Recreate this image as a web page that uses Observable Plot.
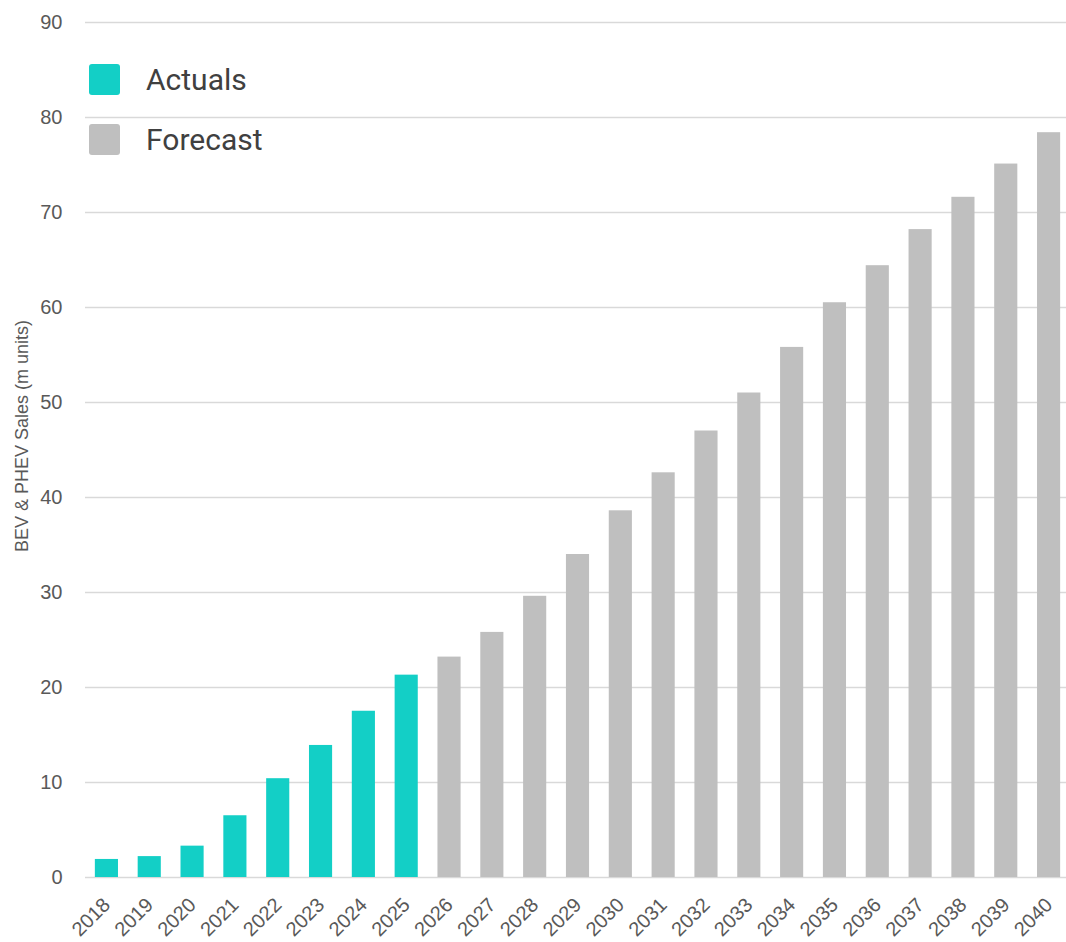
<!DOCTYPE html>
<html>
<head>
<meta charset="utf-8">
<script src="https://cdn.jsdelivr.net/npm/d3@7"></script>
<script src="https://cdn.jsdelivr.net/npm/@observablehq/plot@0.6"></script>
<style>
  html, body { margin: 0; padding: 0; background: #fff; overflow: hidden; }
  #wrap { position: relative; width: 1066px; height: 942px; }
  #legend { position: absolute; left: 89px; top: 64px; font-family: Roboto, sans-serif; font-size: 30px; color: #404040; }
  .item { display: flex; align-items: center; height: 31px; margin-bottom: 29px; }
  .sw { width: 31px; height: 31px; border-radius: 3px; margin-right: 26px; }
  #ylabel { position: absolute; left: 22px; top: 436px; transform: translate(-50%, -50%) rotate(-90deg);
            white-space: nowrap; font-family: 'Liberation Sans', Arial, sans-serif; font-size: 18px; color: #595959; line-height: 1; }
</style>
</head>
<body>
<div id="wrap"><div id="legend"></div><div id="ylabel"></div></div>
<script>
const years = ["2018","2019","2020","2021","2022","2023","2024","2025","2026","2027","2028","2029","2030","2031","2032","2033","2034","2035","2036","2037","2038","2039","2040"];
const sales = [1.9, 2.2, 3.3, 6.5, 10.4, 13.9, 17.5, 21.3, 23.2, 25.8, 29.6, 34.0, 38.6, 42.6, 47.0, 51.0, 55.8, 60.5, 64.4, 68.2, 71.6, 75.1, 78.4];
const status = ["Actuals","Actuals","Actuals","Actuals","Actuals","Actuals","Actuals","Actuals","Forecast","Forecast","Forecast","Forecast","Forecast","Forecast","Forecast","Forecast","Forecast","Forecast","Forecast","Forecast","Forecast","Forecast","Forecast"];
const seriesNames = ["Actuals", "Forecast"];
const seriesColors = ["#13CFC6", "#BFBFBF"];
const yTicks = [0, 10, 20, 30, 40, 50, 60, 70, 80, 90];
const yLabel = "BEV & PHEV Sales (m units)";

const data = years.map((y, i) => ({year: y, value: sales[i], status: status[i]}));

const chart = Plot.plot({
  width: 1066,
  height: 942,
  marginTop: 22,
  marginBottom: 65,
  marginLeft: 85,
  marginRight: -4,
  style: {fontFamily: "'Liberation Sans', Arial, sans-serif", fontSize: "20px", color: "#595959", background: "#fff", overflow: "visible"},
  x: {domain: years, paddingInner: 0.46, paddingOuter: 0.23, round: false},
  y: {domain: [0, 90]},
  color: {domain: seriesNames, range: seriesColors},
  marks: [
    Plot.gridY(yTicks, {stroke: "#d9d9d9", strokeOpacity: 1, strokeWidth: 1.6}),
    Plot.barY(data, {x: "year", y: "value", fill: "status"}),
    Plot.axisY(yTicks, {tickSize: 0, tickPadding: 23, fill: "#595959", fontSize: 20, label: null}),
    Plot.axisX({tickSize: 0, tickPadding: 24, tickRotate: -45, fill: "#595959", fontSize: 20, label: null})
  ]
});
document.getElementById("wrap").prepend(chart);
document.getElementById("ylabel").textContent = yLabel;

const legend = document.getElementById("legend");
seriesNames.forEach((n, i) => {
  const d = document.createElement("div");
  d.className = "item";
  d.innerHTML = `<div class="sw" style="background:${seriesColors[i]}"></div><span>${n}</span>`;
  legend.appendChild(d);
});
</script>
</body>
</html>
